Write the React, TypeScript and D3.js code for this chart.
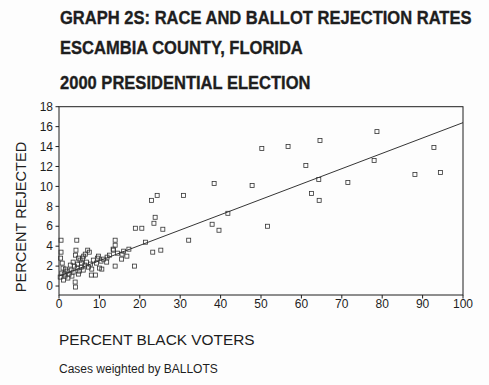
import React from "react";
import * as d3 from "d3";

const titleLines = [
  "GRAPH 2S: RACE AND BALLOT REJECTION RATES",
  "ESCAMBIA COUNTY, FLORIDA",
  "2000 PRESIDENTIAL ELECTION",
];
const xTicks = [0, 10, 20, 30, 40, 50, 60, 70, 80, 90, 100];
const yTicks = [0, 2, 4, 6, 8, 10, 12, 14, 16, 18];
const xLabel = "PERCENT BLACK VOTERS";
const yLabel = "PERCENT REJECTED";
const note = "Cases weighted by BALLOTS";

const pctBlack = [
  50.2, 56.7, 64.6, 78.7, 61.1, 78.0, 92.8, 47.8, 64.3, 71.5, 88.1, 94.4, 62.5, 64.4, 51.6,
  38.4, 30.8, 22.9, 24.3, 23.8, 23.5, 25.7, 18.9, 20.5, 41.8, 37.9, 39.6, 32.1, 21.4, 23.2,
  25.2, 18.7, 13.9, 13.9, 13.5, 13.9, 16.8, 15.6, 17.3, 15.5, 10.6, 11.8, 13.4,
  0.5, 4.4, 0.5, 0.4, 0.8, 4.2, 4.1, 4.8, 7.1, 7.5, 6.1, 5.6, 6.4, 7.3, 8.5, 9.5, 10.4,
  11.0, 11.9, 9.0, 8.0, 0.7, 1.1, 4.1, 4.0, 1.5, 2.0, 2.5, 3.0, 3.5, 4.5, 5.0, 5.5, 6.0,
  3.2, 2.2, 1.0, 1.6, 3.8, 4.6, 5.2, 6.8, 7.8, 9.3, 10.0, 8.1, 0.3, 2.8, 5.8, 6.5, 3.5,
  1.3, 4.8, 12.5, 14.5, 16.0, 9.8,
];
const pctRejected = [
  13.8, 14.0, 14.6, 15.5, 12.1, 12.6, 13.9, 10.1, 10.7, 10.4, 11.2, 11.4, 9.3, 8.6, 6.0,
  10.3, 9.1, 8.6, 9.1, 6.9, 6.3, 5.7, 5.8, 5.8, 7.3, 6.2, 5.6, 4.6, 4.4, 3.4,
  3.6, 2.0, 4.6, 4.1, 3.6, 2.0, 3.0, 3.2, 3.7, 2.7, 1.7, 2.4, 3.7,
  4.6, 4.6, 3.4, 2.8, 2.3, 3.6, 3.1, 2.8, 3.6, 3.4, 3.0, 2.3, 2.1, 1.9, 2.6, 2.8, 2.5,
  2.7, 2.9, 1.1, 1.1, 1.3, 0.6, -0.1, 0.4, 1.0, 1.5, 1.2, 1.6, 1.4, 1.8, 1.5, 1.9, 1.6,
  1.0, 0.8, 1.8, 1.7, 2.0, 2.2, 2.6, 2.4, 2.2, 2.3, 1.8, 1.7, 0.9, 2.1, 2.8, 3.2, 2.4,
  1.2, 1.2, 3.1, 3.3, 3.5, 3.0,
];
const fitIntercept = [1.0];
const fitSlope = [0.154];

export default function App() {
  const W = 489, H = 385;
  const x = d3.scaleLinear().domain([0, 100]).range([59, 463]);
  const y = d3.scaleLinear().domain([-0.9, 18]).range([295, 106.7]);
  const ink = "#1e1e1e";
  const font = "'Liberation Sans', Arial, sans-serif";
  const lineGen = d3.line<number>().x((d) => x(d)).y((d) => y(fitIntercept[0] + fitSlope[0] * d));
  const pts = pctBlack.map((v, i) => [v, pctRejected[i]]);
  const s = 4;
  const tys = [24, 54, 89];
  return (
    <svg width={W} height={H} style={{ position: "absolute", left: 0, top: 0, background: "#fff" }} fontFamily={font}>
      <rect x={0} y={0} width={W} height={H} fill="#fdfdfd" />
      {titleLines.map((t, i) => (
        <text key={t} x={0} y={0} fontSize={15.6} fontWeight="bold" fill={ink} stroke={ink} strokeWidth={0.3}
          transform={`translate(60,${tys[i]}) scale(1.06,1.15)`}>
          {t}
        </text>
      ))}
      {/* frame */}
      <rect x={x(0)} y={y(18)} width={x(100) - x(0)} height={y(-0.9) - y(18)} fill="none" stroke={ink} strokeWidth={1} />
      {/* y ticks */}
      {yTicks.map((t) => (
        <g key={"y" + t}>
          <line x1={x(0) - 3.5} x2={x(0)} y1={y(t)} y2={y(t)} stroke={ink} />
          <text x={53} y={y(t) + 4.2} fontSize={12} textAnchor="end" fill={ink}>{t}</text>
        </g>
      ))}
      {xTicks.map((t) => (
        <g key={"x" + t}>
          <line x1={x(t)} x2={x(t)} y1={y(-0.9)} y2={y(-0.9) + 3.5} stroke={ink} />
          <text x={x(t)} y={308} fontSize={12} textAnchor="middle" fill={ink}>{t}</text>
        </g>
      ))}
      <path d={lineGen([0, 100]) || ""} fill="none" stroke={ink} strokeWidth={0.9} />
      {pts.map(([a, b], i) => (
        <rect key={i} x={x(a) - s / 2} y={y(b) - s / 2} width={s} height={s} fill="none" stroke="#333" strokeWidth={0.8} />
      ))}
      <text x={59} y={345} fontSize={15.4} fill={ink}>{xLabel}</text>
      <text transform={`translate(26,217) rotate(-90)`} fontSize={14.6} textAnchor="middle" fill={ink}>{yLabel}</text>
      <text x={59} y={373} fontSize={12} fill={ink}>{note}</text>
    </svg>
  );
}
